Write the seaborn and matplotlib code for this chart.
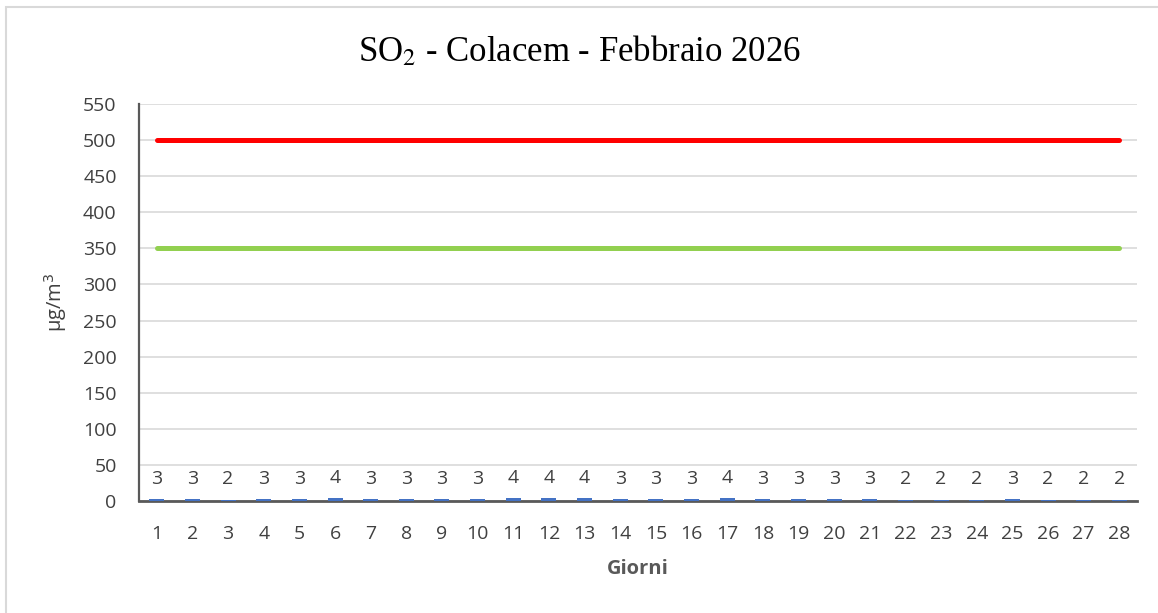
import pandas as pd
import seaborn as sns
import matplotlib.pyplot as plt
from matplotlib.patches import Rectangle

giorni = list(range(1, 29))
so2 = [3, 3, 2, 3, 3, 4, 3, 3, 3, 3, 4, 4, 4, 3, 3, 3, 4, 3, 3, 3, 3, 2, 2, 2, 3, 2, 2, 2]
soglia_allarme = [500] * 28
soglia_oraria = [350] * 28
yticks = list(range(0, 551, 50))

sns.set_theme(style="white")
plt.rcParams["font.family"] = ["Open Sans", "DejaVu Sans"]

df = pd.DataFrame({"giorno": giorni, "valore": so2,
                   "allarme": soglia_allarme, "orario": soglia_oraria})

fig = plt.figure(figsize=(11.58, 6.13), dpi=100)
# axes box: x 139..1137 px, y 104..501 px
ax = fig.add_axes([0.120, 0.1827, 0.862, 0.6476])

ax.grid(axis="y", color="#d9d9d9", linewidth=1.2, zorder=0)
ax.set_axisbelow(True)

sns.barplot(data=df, x="giorno", y="valore", native_scale=True, color="#4472C4",
            saturation=1, width=0.42, linewidth=0, ax=ax, zorder=4)
ax.bar_label(ax.containers[0], padding=8, fontsize=14, color="#404040")

sns.lineplot(data=df, x="giorno", y="allarme", color="#FF0000", linewidth=3.6,
             ax=ax, zorder=3, solid_capstyle="round")
sns.lineplot(data=df, x="giorno", y="orario", color="#92D050", linewidth=3.6,
             ax=ax, zorder=3, solid_capstyle="round")

ax.set_xlim(0.5, 28.5)
ax.set_ylim(0, 550)
ax.set_yticks(yticks)
ax.set_xticks(giorni)
ax.set_xticklabels([str(g) for g in giorni])
ax.tick_params(axis="x", length=0, pad=17, labelsize=14, labelcolor="#404040")
ax.tick_params(axis="y", length=0, pad=16, labelsize=14, labelcolor="#404040")

for s in ["top", "right"]:
    ax.spines[s].set_visible(False)
ax.spines["left"].set_color("#595959")
ax.spines["left"].set_linewidth(1.6)
ax.spines["bottom"].set_color("#595959")
ax.spines["bottom"].set_linewidth(2)

ax.set_xlabel("Giorni", fontsize=14.5, fontweight="bold", color="#595959", labelpad=12)
ax.set_ylabel("µg/m$^3$", fontsize=14.5, color="#404040", labelpad=10)

fig.text(0.5, 0.915, "SO$_2$ - Colacem - Febbraio 2026", ha="center", va="center",
         fontsize=25, family="Liberation Serif", math_fontfamily="stix", color="black")

fig.patches.append(Rectangle((0.005, -0.1), 1.2, 1.1 - 7 / 613, transform=fig.transFigure,
                             fill=False, edgecolor="#d9d9d9", linewidth=1.5))

fig.savefig("out.png", dpi=100)
